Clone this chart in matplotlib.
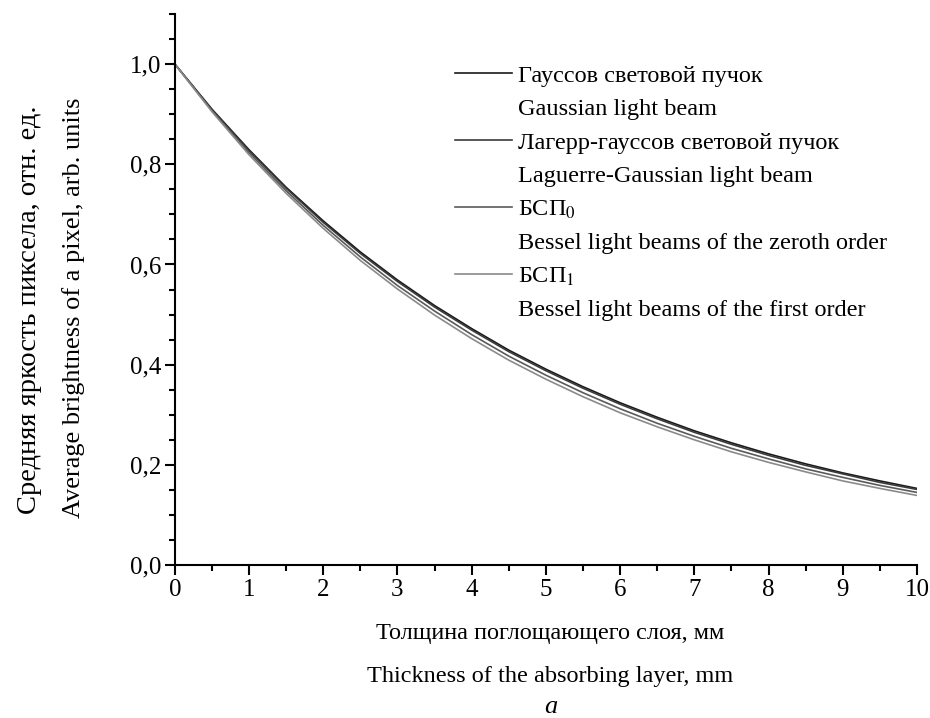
import numpy as np
import matplotlib.pyplot as plt
from matplotlib.lines import Line2D
from matplotlib.ticker import MultipleLocator, FuncFormatter

plt.rcParams['font.family'] = ['Liberation Serif', 'DejaVu Serif']
plt.rcParams['mathtext.fontset'] = 'stix'

# Толщина слоя, мм
x = [0, 0.5, 1, 1.5, 2, 2.5, 3, 3.5, 4, 4.5, 5, 5.5, 6, 6.5, 7, 7.5, 8, 8.5, 9, 9.5, 10]

# Средняя яркость
gauss = [1.000, 0.910, 0.829, 0.754, 0.687, 0.625, 0.569, 0.518, 0.472, 0.429, 0.391,
         0.356, 0.324, 0.295, 0.268, 0.244, 0.222, 0.202, 0.184, 0.168, 0.153]
lag_gauss = [1.000, 0.909, 0.827, 0.752, 0.684, 0.622, 0.566, 0.515, 0.469, 0.426, 0.388,
             0.353, 0.321, 0.292, 0.265, 0.241, 0.219, 0.199, 0.182, 0.165, 0.151]
bessel0 = [1.000, 0.907, 0.823, 0.747, 0.678, 0.615, 0.558, 0.507, 0.460, 0.417, 0.379,
           0.344, 0.312, 0.283, 0.257, 0.233, 0.212, 0.192, 0.175, 0.159, 0.145]
bessel1 = [1.000, 0.905, 0.819, 0.742, 0.672, 0.608, 0.551, 0.499, 0.452, 0.409, 0.371,
           0.336, 0.304, 0.276, 0.250, 0.226, 0.205, 0.186, 0.168, 0.153, 0.139]

etiquetas_ru = ['Гауссов световой пучок', 'Лагерр-гауссов световой пучок',
                'БСП$_0$', 'БСП$_1$']
etiquetas_en = ['Gaussian light beam', 'Laguerre-Gaussian light beam',
                'Bessel light beams of the zeroth order', 'Bessel light beams of the first order']
colores = ['#1a1a1a', '#3a3a3a', '#5a5a5a', '#8a8a8a']

fig = plt.figure(figsize=(9.3, 7.18), dpi=100)
ax = fig.add_axes([0.188, 0.213, 0.798, 0.7675])

lineas = []
for serie, c in zip([gauss, lag_gauss, bessel0, bessel1], colores):
    l, = ax.plot(x, serie, color=c, lw=1.2)
    lineas.append(l)

ax.set_xlim(0, 10)
ax.set_ylim(0, 1.1)
ax.xaxis.set_major_locator(MultipleLocator(1))
ax.xaxis.set_minor_locator(MultipleLocator(0.5))
ax.yaxis.set_major_locator(MultipleLocator(0.2))
ax.yaxis.set_minor_locator(MultipleLocator(0.05))
ax.yaxis.set_major_formatter(FuncFormatter(lambda v, p: f"{v:.1f}".replace('.', ',') if v < 1.05 else ''))

for lado in ['top', 'right']:
    ax.spines[lado].set_visible(False)
for lado in ['left', 'bottom']:
    ax.spines[lado].set_linewidth(1.5)
ax.tick_params(which='major', direction='out', length=7, width=1.5, labelsize=18, pad=3)
ax.tick_params(which='minor', direction='out', length=4.5, width=1.5)

# Leyenda: línea + texto ruso, y debajo el texto inglés sin línea
handles = []
labels = []
vacio = Line2D([], [], color='none')
for l, ru, en in zip(lineas, etiquetas_ru, etiquetas_en):
    handles += [l, vacio]
    labels += [ru, en]
ax.legend(handles, labels, loc='upper left', bbox_to_anchor=(0.377, 0.908),
          frameon=False, fontsize=17.5, handlelength=2.35, handletextpad=0.25,
          labelspacing=0.47, borderpad=0, borderaxespad=0)

fig.text(0.032, 0.568, 'Средняя яркость пиксела, отн. ед.', rotation=90,
         ha='center', va='center', fontsize=20.5)
fig.text(0.079, 0.572, 'Average brightness of a pixel, arb. units', rotation=90,
         ha='center', va='center', fontsize=19)
fig.text(0.592, 0.118, 'Толщина поглощающего слоя, мм', ha='center', va='center', fontsize=17.5)
fig.text(0.592, 0.058, 'Thickness of the absorbing layer, mm', ha='center', va='center', fontsize=17.5)
fig.text(0.592, 0.016, 'a', ha='center', va='center', fontsize=19, style='italic')

fig.savefig('out.png', dpi=100)
